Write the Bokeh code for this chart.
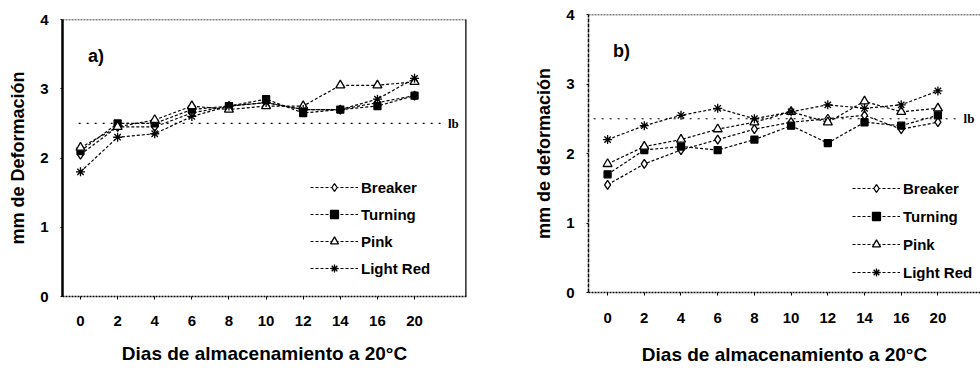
from bokeh.plotting import figure
from bokeh.layouts import row, column
from bokeh.models import FixedTicker, Span, Legend, LegendItem, Label, ColumnDataSource
from bokeh.embed import file_html
from bokeh.resources import INLINE

# ---------------- data ----------------
days = ["0", "2", "4", "6", "8", "10", "12", "14", "16", "20"]
series_names = ["Breaker", "Turning", "Pink", "Light Red"]

a_breaker = [2.05, 2.45, 2.45, 2.65, 2.75, 2.80, 2.70, 2.70, 2.80, 2.90]
a_turning = [2.10, 2.50, 2.50, 2.70, 2.75, 2.85, 2.65, 2.70, 2.75, 2.90]
a_pink = [2.15, 2.45, 2.55, 2.75, 2.70, 2.75, 2.75, 3.05, 3.05, 3.10]
a_light_red = [1.80, 2.30, 2.35, 2.60, 2.75, 2.80, 2.70, 2.70, 2.85, 3.15]

b_breaker = [1.55, 1.85, 2.05, 2.20, 2.35, 2.45, 2.50, 2.55, 2.35, 2.45]
b_turning = [1.70, 2.05, 2.10, 2.05, 2.20, 2.40, 2.15, 2.45, 2.40, 2.55]
b_pink = [1.85, 2.10, 2.20, 2.35, 2.45, 2.60, 2.45, 2.75, 2.60, 2.65]
b_light_red = [2.20, 2.40, 2.55, 2.65, 2.50, 2.60, 2.70, 2.65, 2.70, 2.90]

ref_value = 2.5
ref_label = "lb"
y_ticks = [0, 1, 2, 3, 4]
x_title = "Dias de almacenamiento a 20°C"
y_title_a = "mm de Deformación"
y_title_b = "mm de deformación"
panel_a_tag = "a)"
panel_b_tag = "b)"

FONT = "Liberation Sans"
markers = ["diamond", "square", "triangle", "asterisk"]
fills = ["white", "black", "white", "white"]
sizes = [9, 7, 9, 9]


def make_panel(values, tag, tag_x, y_title, width, x_range, frame, ref_span, ref_label_dx,
               legend_loc, legend_spacing, left_solid, right_border, xt_standoff, xl_standoff):
    left, right, top, bottom = frame
    p = figure(width=width, height=369, output_backend="svg", toolbar_location=None,
               title=None, x_range=x_range, y_range=(0, 4),
               min_border_left=left, min_border_right=right,
               min_border_top=top, min_border_bottom=bottom)
    p.outline_line_color = None
    p.grid.visible = False
    p.background_fill_color = "white"
    p.border_fill_color = "white"

    xs = list(range(len(days)))
    # axes
    p.xaxis.ticker = FixedTicker(ticks=xs)
    p.xaxis.major_label_overrides = {i: d for i, d in enumerate(days)}
    p.xaxis.axis_label = x_title
    p.yaxis.ticker = FixedTicker(ticks=y_ticks)
    p.yaxis.axis_label = y_title
    for ax in (p.xaxis[0], p.yaxis[0]):
        ax.major_label_text_font = FONT
        ax.major_label_text_font_style = "bold"
        ax.major_label_text_font_size = "15px"
        ax.major_label_text_color = "black"
        ax.axis_label_text_font = FONT
        ax.axis_label_text_font_style = "bold"
        ax.axis_label_text_color = "black"
        ax.minor_tick_line_color = None
        ax.major_tick_in = 0
        ax.major_tick_line_color = "black"
    p.xaxis.axis_label_text_font_size = "19px"
    p.yaxis.axis_label_text_font_size = "18px"
    p.xaxis.major_tick_out = 3
    p.xaxis.major_label_standoff = xt_standoff
    p.xaxis.axis_label_standoff = xl_standoff
    p.xaxis.axis_line_dash = "2 1"
    p.xaxis.axis_line_width = 1.5
    p.yaxis.major_tick_out = 2
    p.yaxis.major_label_standoff = 12
    p.yaxis.axis_label_standoff = 9
    if left_solid:
        p.yaxis.axis_line_width = 2.5
    else:
        p.yaxis.axis_line_width = 1.5
        p.yaxis.axis_line_dash = "4 1"

    # top border
    p.add_layout(Span(location=4, dimension="width", line_color="black",
                      line_dash="2 1", line_width=1.5))
    if right_border is not None:
        p.add_layout(Span(location=right_border, dimension="height",
                          line_color="black", line_width=2.5))

    # reference line
    p.segment(x0=[ref_span[0]], y0=[ref_value], x1=[ref_span[1]], y1=[ref_value],
              line_color="black", line_dash="2 6", line_width=1.2)
    p.text(x=[ref_span[1] + ref_label_dx], y=[ref_value], text=[ref_label],
           text_font=FONT, text_font_size="13px", text_font_style="bold",
           text_baseline="middle", text_align="left", text_color="black")

    items = []
    for name, vals, mk, fc, sz in zip(series_names, values, markers, fills, sizes):
        src = ColumnDataSource(dict(x=xs, y=vals))
        ln = p.line("x", "y", source=src, line_color="black", line_dash="3 2", line_width=1.2)
        sc = p.scatter("x", "y", source=src, marker=mk, size=sz, line_color="black",
                       fill_color=fc, line_width=1.3)
        items.append(LegendItem(label=name, renderers=[ln, sc]))

    leg = Legend(items=items, location=legend_loc, orientation="vertical",
                 glyph_width=48, glyph_height=20, label_height=20,
                 spacing=legend_spacing, padding=0, margin=0, label_standoff=3,
                 border_line_color=None, background_fill_alpha=0,
                 label_text_font=FONT, label_text_font_size="15px",
                 label_text_font_style="bold", label_text_color="black")
    p.add_layout(leg)

    p.add_layout(Label(x=tag_x, y=3.48, text=tag,
                       text_font=FONT, text_font_size="18px", text_font_style="bold",
                       text_baseline="middle", text_color="black"))
    return p


pa = make_panel([a_breaker, a_turning, a_pink, a_light_red], panel_a_tag, 0.2, y_title_a,
                width=490, x_range=(-0.485, 10.40), frame=(62, 24, 19, 73),
                ref_span=(-0.05, 9.7), ref_label_dx=0.2, legend_loc=(248, 18),
                legend_spacing=7, left_solid=True, right_border=10.40,
                xt_standoff=16, xl_standoff=14)
pb = make_panel([b_breaker, b_turning, b_pink, b_light_red], panel_b_tag, 0.15, y_title_b,
                width=490, x_range=(-0.52, 10.16), frame=(98, 0, 14, 77),
                ref_span=(-0.38, 9.6), ref_label_dx=0.1, legend_loc=(264, 10),
                legend_spacing=8, left_solid=False, right_border=None,
                xt_standoff=17, xl_standoff=18)

layout = row(column(pa), column(pb))
open("out.html", "w").write(file_html(layout, INLINE))
